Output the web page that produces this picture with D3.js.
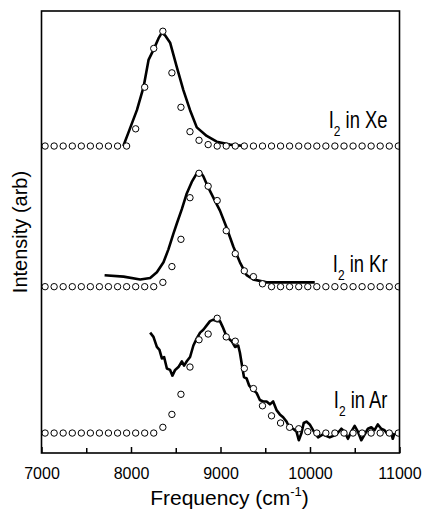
<!DOCTYPE html>
<html>
<head>
<meta charset="utf-8">
<script src="https://cdn.jsdelivr.net/npm/d3@7"></script>
<style>
  body { margin: 0; background: #fff; }
  text { font-family: "Liberation Sans", Arial, sans-serif; fill: #000; }
  .axis text { font-size: 16px; }
  .label { font-size: 23px; }
</style>
</head>
<body>
<div id="chart"></div>
<script>
// circle (model) grid, shared by the three spectra
const circleFreq = [7040, 7141, 7242, 7344, 7445, 7546, 7647, 7748, 7850, 7951,
  8052, 8153, 8254, 8356, 8457, 8558, 8659, 8760, 8862, 8963,
  9064, 9165, 9266, 9368, 9469, 9570, 9671, 9772, 9874, 9975,
  10076, 10177, 10278, 10380, 10481, 10582, 10683, 10784, 10886, 10987];

const xeCircles = [0, 0, 0, 0, 0, 0, 0, 0, 0, 0,
  0.12, 0.41, 0.68, 0.80, 0.51, 0.27, 0.10, 0.04, 0.01, 0,
  0, 0, 0, 0, 0, 0, 0, 0, 0, 0,
  0, 0, 0, 0, 0, 0, 0, 0, 0, 0];
const krCircles = [0, 0, 0, 0, 0, 0, 0, 0, 0, 0,
  0, 0, 0, 0.03, 0.14, 0.33, 0.62, 0.79, 0.70, 0.60,
  0.39, 0.23, 0.11, 0.07, 0.02, 0, 0, 0, 0, 0,
  0, 0, 0, 0, 0, 0, 0, 0, 0, 0];
const arCircles = [0, 0, 0, 0, 0, 0, 0, 0, 0, 0,
  0, 0, 0, 0.04, 0.13, 0.27, 0.46, 0.65, 0.69, 0.80,
  0.67, 0.64, 0.45, 0.31, 0.19, 0.12, 0.07, 0.04, 0.03, 0.01,
  0, 0, 0, 0, 0, 0, 0, 0, 0, 0];

// measured spectra (solid lines)
const xeFreq = [7914, 7969, 8066, 8140, 8196, 8251, 8307, 8345, 8382, 8437,
  8512, 8585, 8660, 8735, 8846, 8958, 9106, 9273];
const xeLine = [0, 0.09, 0.25, 0.41, 0.60, 0.67, 0.75, 0.79, 0.77, 0.72,
  0.55, 0.39, 0.25, 0.13, 0.07, 0.03, 0.01, 0];

const krFreq = [7705, 7917, 8103, 8214, 8289, 8363, 8418, 8474, 8512, 8568,
  8623, 8679, 8735, 8772, 8808, 8864, 8920, 8994, 9069, 9143,
  9217, 9292, 9365, 9515, 9700, 9886, 10053];
const krLine = [0.08, 0.07, 0.05, 0.06, 0.10, 0.17, 0.26, 0.37, 0.44, 0.54,
  0.65, 0.73, 0.79, 0.80, 0.77, 0.69, 0.62, 0.53, 0.41, 0.28,
  0.17, 0.08, 0.05, 0.03, 0.03, 0.03, 0.03];

const arFreq = [8214, 8251, 8289, 8318, 8345, 8370, 8401, 8437, 8463, 8493,
  8530, 8568, 8593, 8623, 8660, 8697, 8735, 8772, 8808, 8846,
  8883, 8920, 8958, 8994, 9024, 9050, 9087, 9125, 9162, 9198,
  9217, 9243, 9262, 9292, 9321, 9365, 9403, 9440, 9477, 9515,
  9552, 9588, 9626, 9663, 9700, 9738, 9774, 9811, 9849, 9875,
  9905, 9930, 9960, 9997, 10034, 10090, 10145, 10220, 10295, 10350,
  10387, 10424, 10462, 10499, 10535, 10573, 10610, 10647, 10685, 10721,
  10758, 10796, 10833, 10870, 10908, 10925, 10944];
const arLine = [0.70, 0.67, 0.60, 0.58, 0.52, 0.53, 0.45, 0.44, 0.40, 0.44,
  0.46, 0.50, 0.47, 0.50, 0.53, 0.61, 0.66, 0.70, 0.72, 0.75,
  0.78, 0.79, 0.78, 0.78, 0.74, 0.70, 0.66, 0.64, 0.60, 0.61,
  0.56, 0.46, 0.39, 0.38, 0.33, 0.30, 0.28, 0.23, 0.22, 0.22,
  0.20, 0.22, 0.16, 0.13, 0.11, 0.08, 0.03, 0.03, 0.01, -0.05,
  0.00, 0.07, 0.08, 0.06, 0.02, -0.03, -0.01, -0.03, -0.01, 0.03,
  0.01, -0.04, 0.01, 0.05, 0.01, -0.05, -0.01, 0.03, 0.04, 0.02,
  0.06, 0.03, 0.02, -0.01, 0.00, -0.04, 0.00];

// vertical stacking offsets of the three traces
const seriesNames = ["Xe", "Kr", "Ar"];
const seriesOffset = [2.0, 1.02, 0];

const xTicks = [7000, 8000, 9000, 10000, 11000];
const xMinorTicks = [7500, 8500, 9500, 10500];

const W = 427, H = 510;
const margin = { top: 11, right: 27.5, bottom: 57, left: 41.5 };
const width = W - margin.left - margin.right;
const height = H - margin.top - margin.bottom;

const svg = d3.select("#chart").append("svg")
    .attr("width", W)
    .attr("height", H);

const g = svg.append("g")
    .attr("transform", `translate(${margin.left},${margin.top})`);

const x = d3.scaleLinear().domain([7000, 11000]).range([0, width]);
const y = d3.scaleLinear().domain([-0.139, 2.941]).range([height, 0]);

const series = [
  { circles: xeCircles, freq: xeFreq, line: xeLine },
  { circles: krCircles, freq: krFreq, line: krLine },
  { circles: arCircles, freq: arFreq, line: arLine }
];

const line = d3.line()
    .x(d => x(d[0]))
    .y(d => y(d[1]));

g.append("clipPath").attr("id", "clip")
  .append("rect").attr("width", width).attr("height", height);

const plot = g.append("g").attr("clip-path", "url(#clip)");

series.forEach((s, i) => {
  const off = seriesOffset[i];
  plot.append("path")
      .datum(s.freq.map((f, j) => [f, s.line[j] + off]))
      .attr("fill", "none")
      .attr("stroke", "#000")
      .attr("stroke-width", 2.6)
      .attr("stroke-linejoin", "round")
      .attr("d", line);

  plot.selectAll(".dot-" + seriesNames[i])
      .data(circleFreq.map((f, j) => [f, s.circles[j] + off]))
      .enter()
      .append("circle")
      .attr("cx", d => x(d[0]))
      .attr("cy", d => y(d[1]))
      .attr("r", 3.2)
      .attr("fill", "#fff")
      .attr("stroke", "#000")
      .attr("stroke-width", 1);
});

// x axis, ticks pointing inward
g.append("g")
    .attr("class", "axis")
    .attr("transform", `translate(0,${height})`)
    .call(d3.axisBottom(x).tickValues(xTicks).tickSize(-6).tickPadding(15).tickFormat(d3.format("d")))
    .call(a => a.select(".domain").remove())
    .call(a => a.selectAll("line").attr("stroke-width", 1.5));

g.append("g")
    .attr("transform", `translate(0,${height})`)
    .call(d3.axisBottom(x).tickValues(xMinorTicks).tickSize(-5).tickFormat(""))
    .call(a => a.select(".domain").remove())
    .call(a => a.selectAll("line").attr("stroke-width", 1.5));

// frame
g.append("rect")
    .attr("width", width)
    .attr("height", height)
    .attr("fill", "none")
    .attr("stroke", "#000")
    .attr("stroke-width", 1.6);

// series labels (tall, condensed lettering as in the original)
const labelY = [117, 261, 397];
seriesNames.forEach((name, i) => {
  const t = g.append("g")
      .attr("transform", `translate(${width - 12},${labelY[i]}) scale(0.8,1)`)
    .append("text")
      .attr("class", "label")
      .attr("text-anchor", "end");
  t.append("tspan").text("I");
  t.append("tspan").attr("dy", 8).style("font-size", "15px").text("2");
  t.append("tspan").attr("dy", -8).text(" in " + name);
});

// axis titles
const xt = svg.append("text")
    .attr("x", margin.left + width / 2 + 9)
    .attr("y", 505)
    .attr("text-anchor", "middle")
    .style("font-size", "21px");
xt.append("tspan").text("Frequency (cm");
xt.append("tspan").attr("dy", -9).style("font-size", "13px").text("-1");
xt.append("tspan").attr("dy", 9).text(")");

svg.append("text")
    .attr("transform", `translate(27,${margin.top + height / 2}) rotate(-90)`)
    .attr("text-anchor", "middle")
    .style("font-size", "20px")
    .text("Intensity (arb)");
</script>
</body>
</html>
